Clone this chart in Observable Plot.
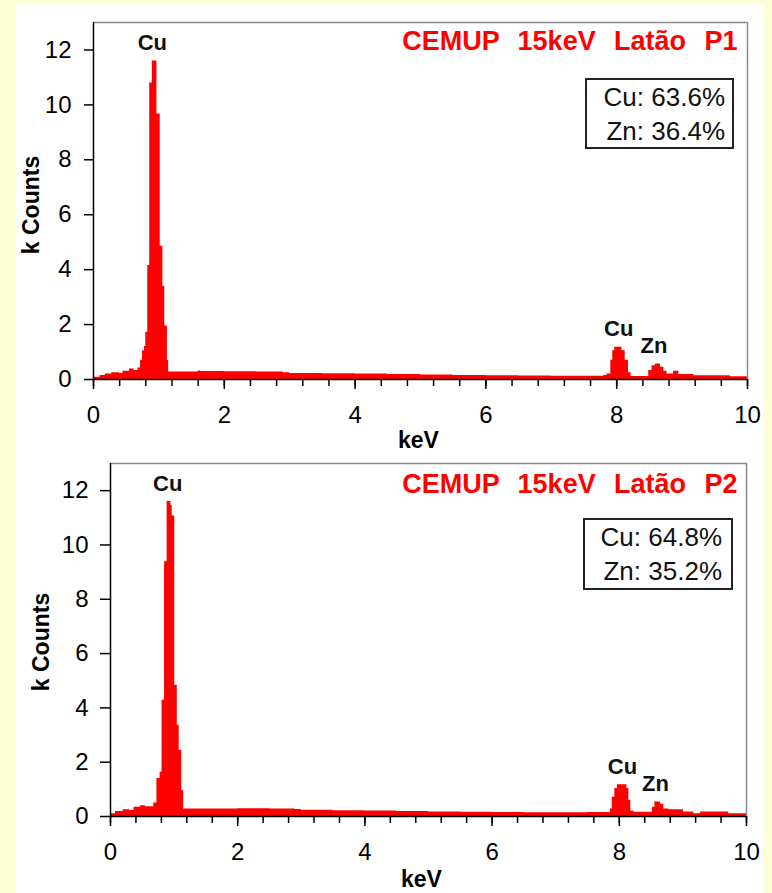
<!DOCTYPE html>
<html>
<head>
<meta charset="utf-8">
<script src="https://cdn.jsdelivr.net/npm/d3@7"></script>
<script src="https://cdn.jsdelivr.net/npm/@observablehq/plot@0.6"></script>
<style>
  html, body { margin: 0; padding: 0; }
  body { width: 772px; height: 893px; background: #ffffd7; position: relative; overflow: hidden;
         font-family: "Liberation Sans", Arial, sans-serif; }
  #sheet { position: absolute; left: 16px; top: 4px; width: 747px; height: 889px; background: #fff; }
  .panel { position: absolute; left: 16px; }
  .panel svg text { white-space: pre; }
  .panel svg .title text { word-spacing: 1.7px; }
  .comp { position: absolute; box-sizing: border-box; border: 2px solid #222; background: #fff;
          font-size: 26px; line-height: 34px; text-align: right; color: #111; }
</style>
</head>
<body>
<div id="sheet"></div>
<div id="p1" class="panel" style="top:4px"></div>
<div id="p2" class="panel" style="top:450px"></div>
<script>
// EDS spectra of brass (latão), two points P1 and P2; step values in k counts per channel edge (keV)
const p1Energy = [0.00, 0.10, 0.18, 0.28, 0.40, 0.45, 0.55, 0.62, 0.68, 0.72, 0.75, 0.78, 0.80, 0.83, 0.86, 0.90, 0.97, 1.02, 1.06, 1.09, 1.13, 1.15,
  1.60, 1.64, 2.00, 2.50, 2.90, 3.00, 3.50, 4.00, 4.50, 5.00, 5.50, 6.00, 6.50, 7.00, 7.50, 7.80, 7.85, 7.91, 7.94, 7.97, 8.08, 8.13, 8.18, 8.22,
  8.49, 8.54, 8.59, 8.67, 8.72, 8.77, 8.87, 8.95, 9.18, 9.74, 10.00];
const p1Counts = [0.08, 0.15, 0.20, 0.25, 0.22, 0.30, 0.38, 0.33, 0.42, 0.70, 1.05, 1.20, 1.72, 4.15, 10.8, 11.6, 9.67, 4.85, 3.40, 1.95, 0.69, 0.27,
  0.31, 0.29, 0.28, 0.27, 0.25, 0.22, 0.21, 0.20, 0.18, 0.16, 0.15, 0.14, 0.13, 0.12, 0.12, 0.15, 0.20, 0.70, 1.05, 1.17, 1.05, 0.70, 0.25, 0.11,
  0.33, 0.50, 0.56, 0.45, 0.30, 0.20, 0.30, 0.18, 0.14, 0.10, 0.10];

const p2Energy = [0.00, 0.08, 0.20, 0.30, 0.37, 0.47, 0.55, 0.68, 0.73, 0.78, 0.81, 0.85, 0.89, 0.95, 0.97, 1.01, 1.05, 1.08, 1.12, 1.15,
  2.00, 2.50, 2.90, 3.00, 3.50, 4.00, 4.50, 5.00, 5.50, 6.00, 6.50, 7.00, 7.50, 7.86, 7.89, 7.93, 7.97, 8.12, 8.15, 8.18, 8.23,
  8.52, 8.56, 8.65, 8.70, 8.78, 9.01, 9.17, 9.28, 9.72, 10.00];
const p2Counts = [0.10, 0.18, 0.25, 0.22, 0.34, 0.40, 0.36, 0.50, 1.40, 1.63, 4.28, 9.38, 11.6, 11.45, 11.07, 4.83, 3.36, 2.44, 0.96, 0.28,
  0.29, 0.28, 0.26, 0.23, 0.21, 0.20, 0.18, 0.17, 0.16, 0.15, 0.14, 0.14, 0.15, 0.28, 0.71, 1.03, 1.17, 1.03, 0.60, 0.20, 0.16,
  0.34, 0.53, 0.45, 0.28, 0.25, 0.17, 0.10, 0.17, 0.10, 0.10];

// Peak identification labels
const p1PeakLabels = ["Cu", "Cu", "Zn"];
const p1PeakEnergy = [0.90, 8.03, 8.57];
const p1PeakCounts = [11.6, 1.17, 0.56];
const p2PeakLabels = ["Cu", "Cu", "Zn"];
const p2PeakEnergy = [0.90, 8.05, 8.57];
const p2PeakCounts = [11.6, 1.17, 0.53];

// Quantified composition (wt%)
const elements = ["Cu", "Zn"];
const p1Percent = [63.6, 36.4];
const p2Percent = [64.8, 35.2];

const titles = ["CEMUP  15keV  Latão  P1", "CEMUP  15keV  Latão  P2"];
const xMajorTicks = [0, 2, 4, 6, 8, 10];
const xMinorTicks = d3.range(0, 10.001, 0.4).map(v => +v.toFixed(1));
const yTicks = [0, 2, 4, 6, 8, 10, 12];

function spectrum(energy, counts, labels, pe, pc, title, L) {
  const data = energy.map((e, i) => ({e, k: counts[i]}));
  const peaks = labels.map((label, i) => ({label, e: pe[i], k: pc[i]}));
  return Plot.plot({
    width: 747, height: L.height,
    marginLeft: L.ml, marginRight: L.mr, marginTop: L.mt, marginBottom: L.mb,
    style: {background: "transparent", fontFamily: "'Liberation Sans', Arial, sans-serif", fontSize: "24px", color: "#000", overflow: "visible"},
    x: {domain: [0, 10]},
    y: {domain: [0, 13]},
    marks: [
      Plot.areaY(data, {x: "e", y: "k", curve: "step-after", fill: "#ff0000"}),
      Plot.ruleY([13], {stroke: "#8a8a8a", strokeWidth: 1.5}),
      Plot.ruleX([10], {stroke: "#8a8a8a", strokeWidth: 1.5}),
      Plot.ruleX([0], {stroke: "#000", strokeWidth: 1.5}),
      Plot.ruleY([0], {stroke: "#000", strokeWidth: 1.5}),
      Plot.axisY(yTicks, {tickSize: L.yts, tickPadding: L.ytp, strokeWidth: 1.5, label: null}),
      Plot.axisX(xMinorTicks, {tickSize: 7, strokeWidth: 1.5, tickFormat: () => "", label: null}),
      Plot.axisX(xMajorTicks, {tickSize: 10, tickPadding: 16, strokeWidth: 1.5, label: null}),
      Plot.text(["keV"], {frameAnchor: "bottom", textAnchor: "middle", lineAnchor: "middle", dx: L.kx, dy: L.ky, fontWeight: "bold", fontSize: 23}),
      Plot.text(["k Counts"], {frameAnchor: "left", textAnchor: "middle", lineAnchor: "middle", rotate: -90, dx: L.cx, dy: L.cy, fontWeight: "bold", fontSize: 23}),
      Plot.text([title], {frameAnchor: "top-right", textAnchor: "end", lineAnchor: "middle", dx: L.tx, dy: L.ty, fill: "#ff0000", fontWeight: "bold", fontSize: 27, className: "title"}),
      Plot.text(peaks, {x: "e", y: "k", text: "label", dy: -18, lineAnchor: "middle", fontWeight: "bold", fontSize: 22, fill: "#111"})
    ]
  });
}

document.getElementById("p1").append(spectrum(p1Energy, p1Counts, p1PeakLabels, p1PeakEnergy, p1PeakCounts, titles[0],
  {height: 446, ml: 77, mr: 16, mt: 18, mb: 71, yts: 9, ytp: 13, kx: -2, ky: 61, cx: -62, cy: 4, tx: -10, ty: 19}));
document.getElementById("p2").append(spectrum(p2Energy, p2Counts, p2PeakLabels, p2PeakEnergy, p2PeakCounts, titles[1],
  {height: 443, ml: 94, mr: 17, mt: 13, mb: 77, yts: 10, ytp: 12, kx: -7, ky: 63, cx: -69, cy: 2, tx: -9, ty: 21}));

// Composition boxes
function compBox(percent, box) {
  const div = document.createElement("div");
  div.className = "comp";
  Object.assign(div.style, {left: box.left + "px", top: box.top + "px", width: box.width + "px", height: box.height + "px", paddingRight: box.pr + "px"});
  div.innerHTML = elements.map((el, i) => `${el}: ${percent[i].toFixed(1)}%`).join("<br>");
  document.body.append(div);
}
compBox(p1Percent, {left: 585, top: 78, width: 149, height: 71, pr: 7});
compBox(p2Percent, {left: 583, top: 518, width: 150, height: 72, pr: 9});
</script>
</body>
</html>
